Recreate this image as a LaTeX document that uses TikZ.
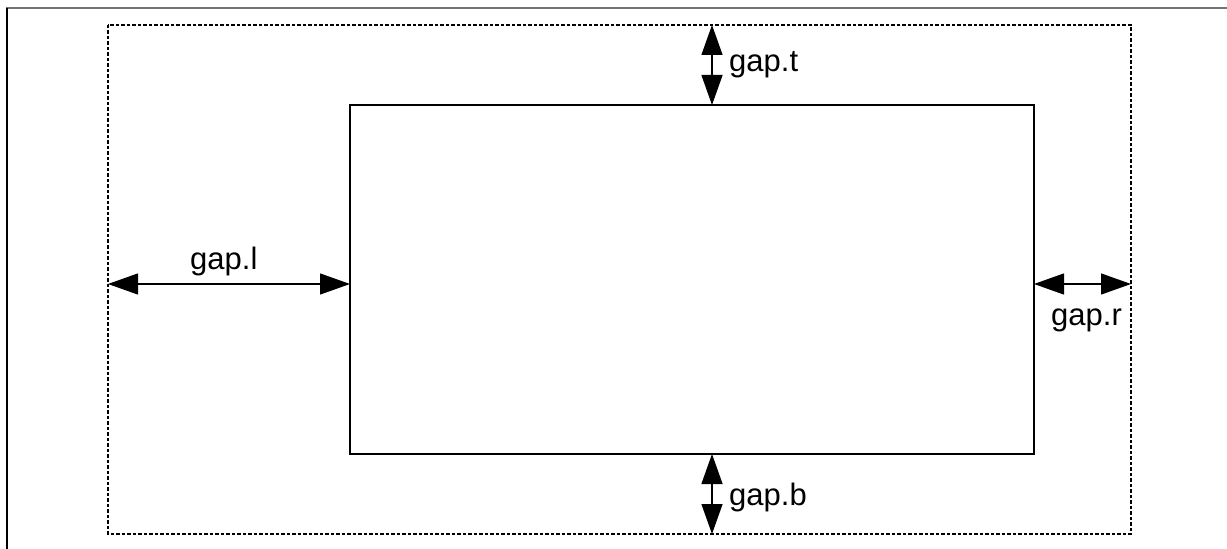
\documentclass[tikz,border=0pt]{standalone}
\usepackage{fontspec}
\setmainfont{Liberation Sans}
\usepackage{tikz}
\usetikzlibrary{arrows.meta}

\begin{document}
\begin{tikzpicture}
  [x=1bp,y=-1bp,every node/.style={inner sep=0pt,font=\fontsize{31bp}{37bp}\selectfont},
   gaparrow/.style={line width=1.3bp,{Triangle[length=30bp,width=21bp]}-{Triangle[length=30bp,width=21bp]}},
   margin/.style={line width=1.3bp,dash pattern=on 3.5bp off 2bp}] % gaparrow is used for all four gaps
    \useasboundingbox (0,0) rectangle (1227,549);

    % page frame
    \draw [line width=2bp,black!55] (6,8) -- (1227,8);
    \draw [line width=1.3bp] (7,8) -- (7,549);

    % outer (dashed) and inner box
    \coordinate (o1) at (108,25);
    \coordinate (o2) at (1131,534);
    \coordinate (i1) at (350,105);
    \coordinate (i2) at (1034,454);
    \draw [margin] (o1) rectangle (o2);
    \draw [line width=1.3bp] (i1) rectangle (i2);

    \coordinate (t1) at (712,25);
    \coordinate (t2) at (712,105);
    \coordinate (b1) at (712,454);
    \coordinate (b2) at (712,534);
    \coordinate (l1) at (108,284);
    \coordinate (l2) at (350,284);
    \coordinate (r1) at (1034,284);
    \coordinate (r2) at (1131,284);

    \draw [gaparrow] (t1) -- (t2);
    \draw [gaparrow] (b1) -- (b2);
    \draw [gaparrow] (l1) -- (l2);
    \draw [gaparrow] (r1) -- (r2);

    \node (gt) [anchor=base west] at (729,72)  {gap.t};
    \node (gb) [anchor=base west] at (729,505) {gap.b};
    \node (gl) [anchor=base west] at (190,270) {gap.l};
    \node (gr) [anchor=base west] at (1051,326) {gap.r};

\end{tikzpicture}
\end{document}
